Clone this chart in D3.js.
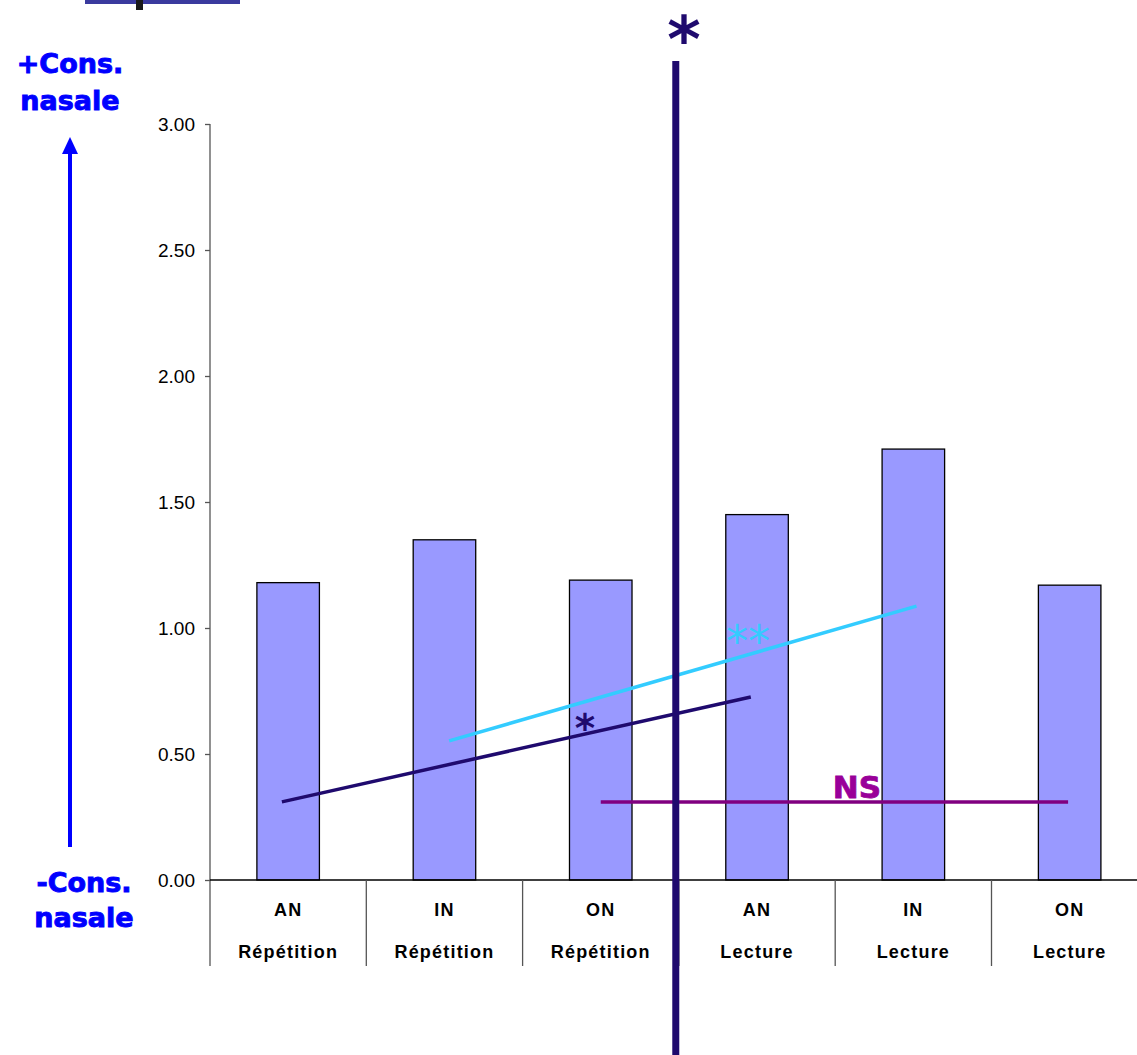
<!DOCTYPE html>
<html>
<head>
<meta charset="utf-8">
<script src="https://cdn.jsdelivr.net/npm/d3@7"></script>
<style>
  html, body { margin: 0; padding: 0; background: #fff; }
  svg { display: block; }
</style>
</head>
<body>
<svg id="chart" width="1137" height="1055"></svg>
<script>
// ---- data ----
const vowels = ["AN", "IN", "ON", "AN", "IN", "ON"];
const tasks = ["Répétition", "Répétition", "Répétition", "Lecture", "Lecture", "Lecture"];
const values = [1.18, 1.35, 1.19, 1.45, 1.71, 1.17];
const yTicks = [0, 0.5, 1.0, 1.5, 2.0, 2.5, 3.0];
// trend lines: [start category position, start value, end category position, end value]
const trendRepet = [0.46, 0.31, 3.46, 0.726];
const trendLight = [1.53, 0.552, 4.52, 1.087];
const trendNS = [2.5, 0.31, 5.49, 0.31];
const dividerPos = 2.98;
const labelsTop = ["+Cons.", "nasale"];
const labelsBottom = ["-Cons.", "nasale"];

// ---- layout ----
const svg = d3.select("#chart");
const x0 = 210, x1 = 1147.8;
const yTop = 124, yBot = 880;
const idx = d3.range(vowels.length);
const x = d3.scaleBand().domain(idx).range([x0, x1]).paddingInner(0).paddingOuter(0);
const xi = d3.scaleLinear().domain([0, vowels.length]).range([x0, x1]);
const y = d3.scaleLinear().domain([0, 3]).range([yBot, yTop]);

// top-left box fragment
svg.append("rect").attr("x", 85).attr("y", 0).attr("width", 155).attr("height", 4).attr("fill", "#3a3a9e");
svg.append("rect").attr("x", 136).attr("y", 0).attr("width", 7).attr("height", 10).attr("fill", "#1a1a1a");

// bars
const bw = x.bandwidth() * 0.4;
svg.append("g").selectAll("rect").data(values).join("rect")
  .attr("x", (d, i) => x(i) + (x.bandwidth() - bw) / 2)
  .attr("y", d => y(d))
  .attr("width", bw)
  .attr("height", d => y(0) - y(d))
  .attr("fill", "#9999ff")
  .attr("stroke", "#000")
  .attr("stroke-width", 1.3);

// y axis
const yAxis = d3.axisLeft(y).tickValues(yTicks).tickFormat(d3.format(".2f")).tickSize(5).tickPadding(10);
const gy = svg.append("g").attr("transform", `translate(${x0},0)`).call(yAxis);
gy.select(".domain").remove();
gy.selectAll(".tick line").attr("stroke", "#555").attr("stroke-width", 1.3);
gy.selectAll(".tick text").attr("font-family", "Liberation Sans, Arial, sans-serif").attr("font-size", 19).attr("fill", "#000");
svg.append("line").attr("x1", x0).attr("x2", x0).attr("y1", yTop).attr("y2", 966).attr("stroke", "#555").attr("stroke-width", 1.3);

// x axis line + separators
svg.append("line").attr("x1", x0).attr("x2", x1).attr("y1", y(0)).attr("y2", y(0)).attr("stroke", "#000").attr("stroke-width", 1.3);
svg.append("g").selectAll("line").data(d3.range(1, vowels.length + 1)).join("line")
  .attr("x1", d => xi(d)).attr("x2", d => xi(d))
  .attr("y1", y(0)).attr("y2", 966)
  .attr("stroke", "#555").attr("stroke-width", 1.3);

// category labels
const lab = svg.append("g").attr("font-family", "Liberation Sans, Arial, sans-serif")
  .attr("font-weight", "bold").attr("font-size", 18).attr("text-anchor", "middle")
  .style("letter-spacing", "1.2px");
lab.selectAll("text.v").data(vowels).join("text").attr("class", "v")
  .attr("x", (d, i) => x(i) + x.bandwidth() / 2).attr("y", 916).text(d => d);
lab.selectAll("text.t").data(tasks).join("text").attr("class", "t")
  .attr("x", (d, i) => x(i) + x.bandwidth() / 2).attr("y", 958).text(d => d);

// trend lines
function seg(t, color, w) {
  svg.append("line")
    .attr("x1", xi(t[0])).attr("y1", y(t[1]))
    .attr("x2", xi(t[2])).attr("y2", y(t[3]))
    .attr("stroke", color).attr("stroke-width", w);
}
seg(trendLight, "#33ccff", 3.5);
seg(trendRepet, "#1f0a6e", 3.5);
seg(trendNS, "#800080", 3.5);

// thick divider
svg.append("line").attr("x1", xi(dividerPos)).attr("x2", xi(dividerPos))
  .attr("y1", 61).attr("y2", 1055).attr("stroke", "#1f0a6e").attr("stroke-width", 7);

// annotations
svg.append("text").attr("x", 684).attr("y", 62).attr("text-anchor", "middle")
  .attr("font-family", "DejaVu Sans, sans-serif").attr("font-weight", "bold").attr("font-size", 64)
  .attr("fill", "#1f0a6e").text("*");
svg.append("text").attr("x", 585).attr("y", 742).attr("text-anchor", "middle")
  .attr("font-family", "DejaVu Sans, sans-serif").attr("font-weight", "bold").attr("font-size", 39)
  .attr("fill", "#1f0a6e").text("*");
svg.append("text").attr("x", 748).attr("y", 657).attr("text-anchor", "middle")
  .attr("font-family", "DejaVu Sans, sans-serif").attr("font-size", 44)
  .attr("fill", "#33ccff").text("**");
svg.append("text").attr("x", 857).attr("y", 798).attr("text-anchor", "middle")
  .attr("font-family", "DejaVu Sans, sans-serif").attr("font-weight", "bold").attr("font-size", 31)
  .attr("fill", "#990099").attr("stroke", "#990099").attr("stroke-width", 0.8).text("NS");

// left side scale arrow
const left = svg.append("g").attr("font-family", "DejaVu Sans, Verdana, sans-serif")
  .attr("font-weight", "bold").attr("font-size", 27).attr("fill", "#0000ff")
  .attr("stroke", "#0000ff").attr("stroke-width", 0.9).attr("text-anchor", "middle");
left.append("text").attr("x", 70).attr("y", 73).text(labelsTop[0]);
left.append("text").attr("x", 70).attr("y", 110).text(labelsTop[1]);
left.append("text").attr("x", 84).attr("y", 892).text(labelsBottom[0]);
left.append("text").attr("x", 84).attr("y", 927).text(labelsBottom[1]);
svg.append("line").attr("x1", 70).attr("x2", 70).attr("y1", 150).attr("y2", 847)
  .attr("stroke", "#0000ff").attr("stroke-width", 4);
svg.append("path").attr("d", "M70,137 L62,154 L78,154 Z").attr("fill", "#0000ff");
</script>
</body>
</html>
